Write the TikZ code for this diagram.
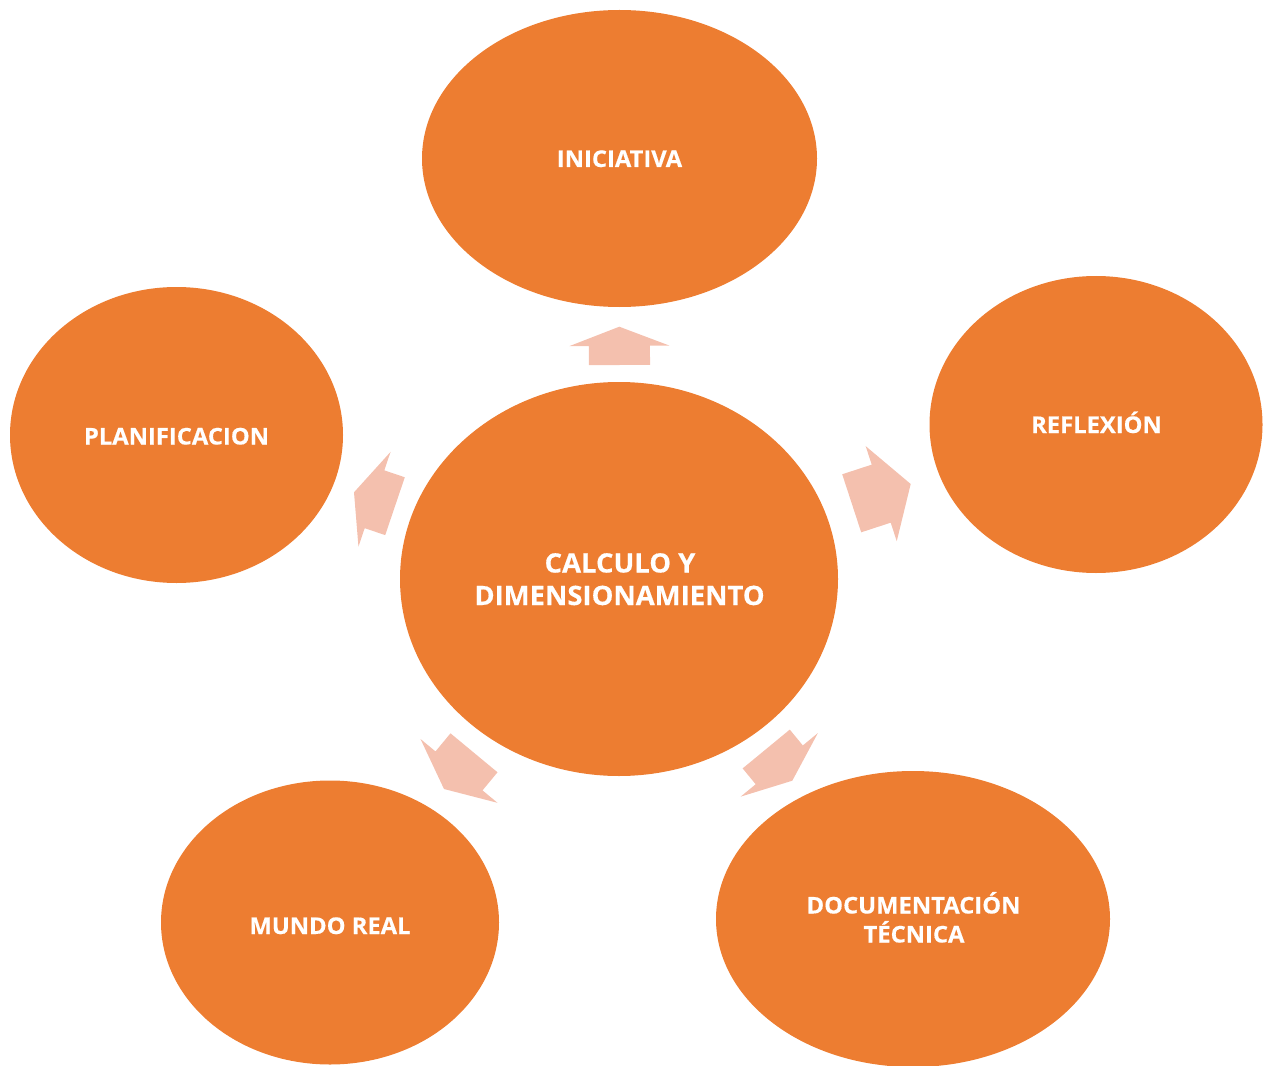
\documentclass[tikz,border=0pt]{standalone}
\usepackage{fontspec}
\usetikzlibrary{shapes.geometric,calc}
\newfontfamily\labelfont[FakeStretch=1.03,FakeBold=0.4]{Open Sans}
\definecolor{bubble}{HTML}{ED7D31}
\definecolor{pointer}{HTML}{F4C0AE}

% block arrow from tail midpoint #1 to tip #2 (shaft and head each half the length)
\newcommand\radialarrow[2]{%
  \coordinate (#1-mid) at ($(#1)!0.5!(#2)$);
  \fill[pointer]
    ($(#1)!22.9pt!90:(#2)$) -- ($(#1-mid)!22.9pt!-90:(#1)$) --
    ($(#1-mid)!37.5pt!-90:(#1)$) -- (#2) --
    ($(#1-mid)!37.5pt!90:(#1)$) -- ($(#1-mid)!22.9pt!90:(#1)$) --
    ($(#1)!22.9pt!-90:(#2)$) -- cycle;
}

\begin{document}
\begin{tikzpicture}[x=0.75pt,y=-0.75pt,
  bubble/.style={ellipse, fill=bubble, draw=none, inner sep=0pt},
  outertext/.style={anchor=base, inner sep=0pt, text=white,
    font=\labelfont\bfseries\fontsize{17.3}{21}\selectfont},
  hubtext/.style={anchor=base, inner sep=0pt, text=white,
    font=\labelfont\bfseries\fontsize{20}{25}\selectfont}]
\useasboundingbox (0,0) rectangle (1263,1066);
\clip (0,0) rectangle (1263,1066);

% hub and satellites
\node[bubble, minimum width=328.5pt, minimum height=295.5pt] (hub) at (619,579) {};
\node[bubble, minimum width=296.25pt, minimum height=222.75pt] (top) at (619.5,158.5) {};
\node[bubble, minimum width=249.75pt, minimum height=222.75pt] (right) at (1096,424.5) {};
\node[bubble, minimum width=249.75pt, minimum height=222pt] (left) at (176.5,435) {};
\node[bubble, minimum width=253.5pt, minimum height=213pt] (botleft) at (330,922.5) {};
\node[bubble, minimum width=295.5pt, minimum height=222pt] (botright) at (913,919) {};

% labels
\node[hubtext] (hub-l1) at (620,572.5) {CALCULO Y};
\node[hubtext] (hub-l2) at (619.5,605) {DIMENSIONAMIENTO};
\node[outertext] (top-l) at (619.5,167) {INICIATIVA};
\node[outertext] (right-l) at (1096.5,433) {REFLEXIÓN};
\node[outertext] (left-l) at (176.5,444.5) {PLANIFICACION};
\node[outertext] (botleft-l) at (330,934) {MUNDO REAL};
\node[outertext] (botright-l1) at (913.5,913.5) {DOCUMENTACIÓN};
\node[outertext] (botright-l2) at (914,942.5) {TÉCNICA};

% arrows from the hub outwards
\coordinate (a1) at (619.5,365);   \coordinate (t1) at (619.3,326.7);
\coordinate (a2) at (851.7,503.3); \coordinate (t2) at (910.7,484);
\coordinate (a3) at (395,506.2);   \coordinate (t3) at (354,492.3);
\coordinate (a4) at (474,752.8);   \coordinate (t4) at (444,789);
\coordinate (a5) at (766.2,749);   \coordinate (t5) at (792.3,780.7);
\radialarrow{a1}{t1}
\radialarrow{a2}{t2}
\radialarrow{a3}{t3}
\radialarrow{a4}{t4}
\radialarrow{a5}{t5}
\end{tikzpicture}
\end{document}
